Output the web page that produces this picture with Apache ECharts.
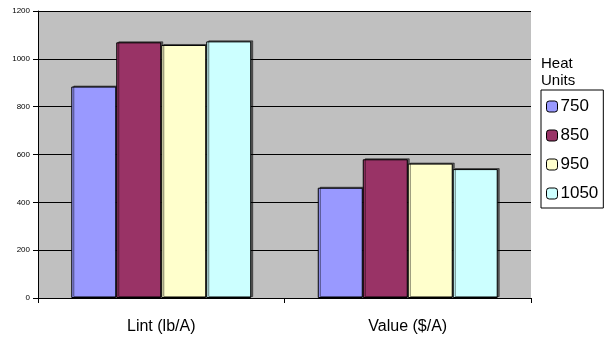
<!DOCTYPE html>
<html>
<head>
<meta charset="utf-8">
<script src="https://cdn.jsdelivr.net/npm/echarts@6/dist/echarts.min.js"></script>
<style>
  html, body { margin: 0; padding: 0; background: #fff; }
  #chart { width: 605px; height: 343px; }
</style>
</head>
<body>
<div id="chart"></div>
<script>
// Measures on the horizontal axis
const categories = ['Lint (lb/A)', 'Value ($/A)'];
// Heat unit groups shown in the legend
const heatUnits = ['750', '850', '950', '1050'];
// One value per measure for each heat unit group
const values750 = [884, 461];
const values850 = [1069, 580];
const values950 = [1058, 562];
const values1050 = [1073, 539];
const yTicks = [0, 200, 400, 600, 800, 1000, 1200];

const seriesValues = [values750, values850, values950, values1050];
const colors = ['#9999FF', '#993366', '#FFFFCC', '#CCFFFF'];
const FONT = '"Liberation Sans", Arial, sans-serif';

const chart = echarts.init(document.getElementById('chart'), null, { renderer: 'canvas' });

chart.setOption({
  animation: false,
  backgroundColor: '#ffffff',
  textStyle: { fontFamily: FONT },
  grid: {
    left: 38, right: 74, top: 11, bottom: 45,
    show: true, backgroundColor: '#C0C0C0', borderWidth: 0
  },
  graphic: [{
    type: 'text',
    left: 541, top: 55,
    z: 100,
    style: {
      text: 'Heat\nUnits',
      font: '15px ' + FONT,
      lineHeight: 17,
      fill: '#000'
    }
  }],
  legend: {
    orient: 'vertical',
    left: 541, top: 90,
    width: 63,
    padding: [8, 5, 6, 5],
    itemGap: 12,
    itemWidth: 11, itemHeight: 11,
    borderColor: '#000', borderWidth: 1,
    backgroundColor: '#fff',
    textStyle: { fontSize: 17, color: '#000', fontFamily: FONT, padding: [0, 0, 0, -2] },
    data: heatUnits.map(n => ({ name: n, itemStyle: { borderColor: '#000', borderWidth: 1 } }))
  },
  xAxis: {
    type: 'category',
    data: categories,
    axisLine: { lineStyle: { color: '#000', width: 1 } },
    axisTick: { show: true, length: 5, lineStyle: { color: '#000' } },
    axisLabel: { fontSize: 16, color: '#000', margin: 21 },
    splitLine: { show: false }
  },
  yAxis: {
    type: 'value',
    min: 0, max: 1200, interval: 200,
    axisLine: { show: true, lineStyle: { color: '#000', width: 1 } },
    axisTick: { show: true, length: 5, lineStyle: { color: '#000' } },
    axisLabel: {
      fontSize: 8, color: '#000', margin: 8,
      formatter: v => (yTicks.includes(v) ? String(v) : '')
    },
    splitLine: { show: true, lineStyle: { color: '#000', width: 1 } }
  },
  series: heatUnits.map((name, i) => ({
    name: name,
    type: 'bar',
    data: seriesValues[i],
    barGap: '0%',
    barCategoryGap: '27%',
    itemStyle: {
      color: colors[i],
      borderColor: '#000',
      borderWidth: 1,
      shadowColor: 'rgba(0,0,0,0.5)',
      shadowOffsetX: 2,
      shadowOffsetY: -1,
      shadowBlur: 0
    }
  }))
});
</script>
</body>
</html>
